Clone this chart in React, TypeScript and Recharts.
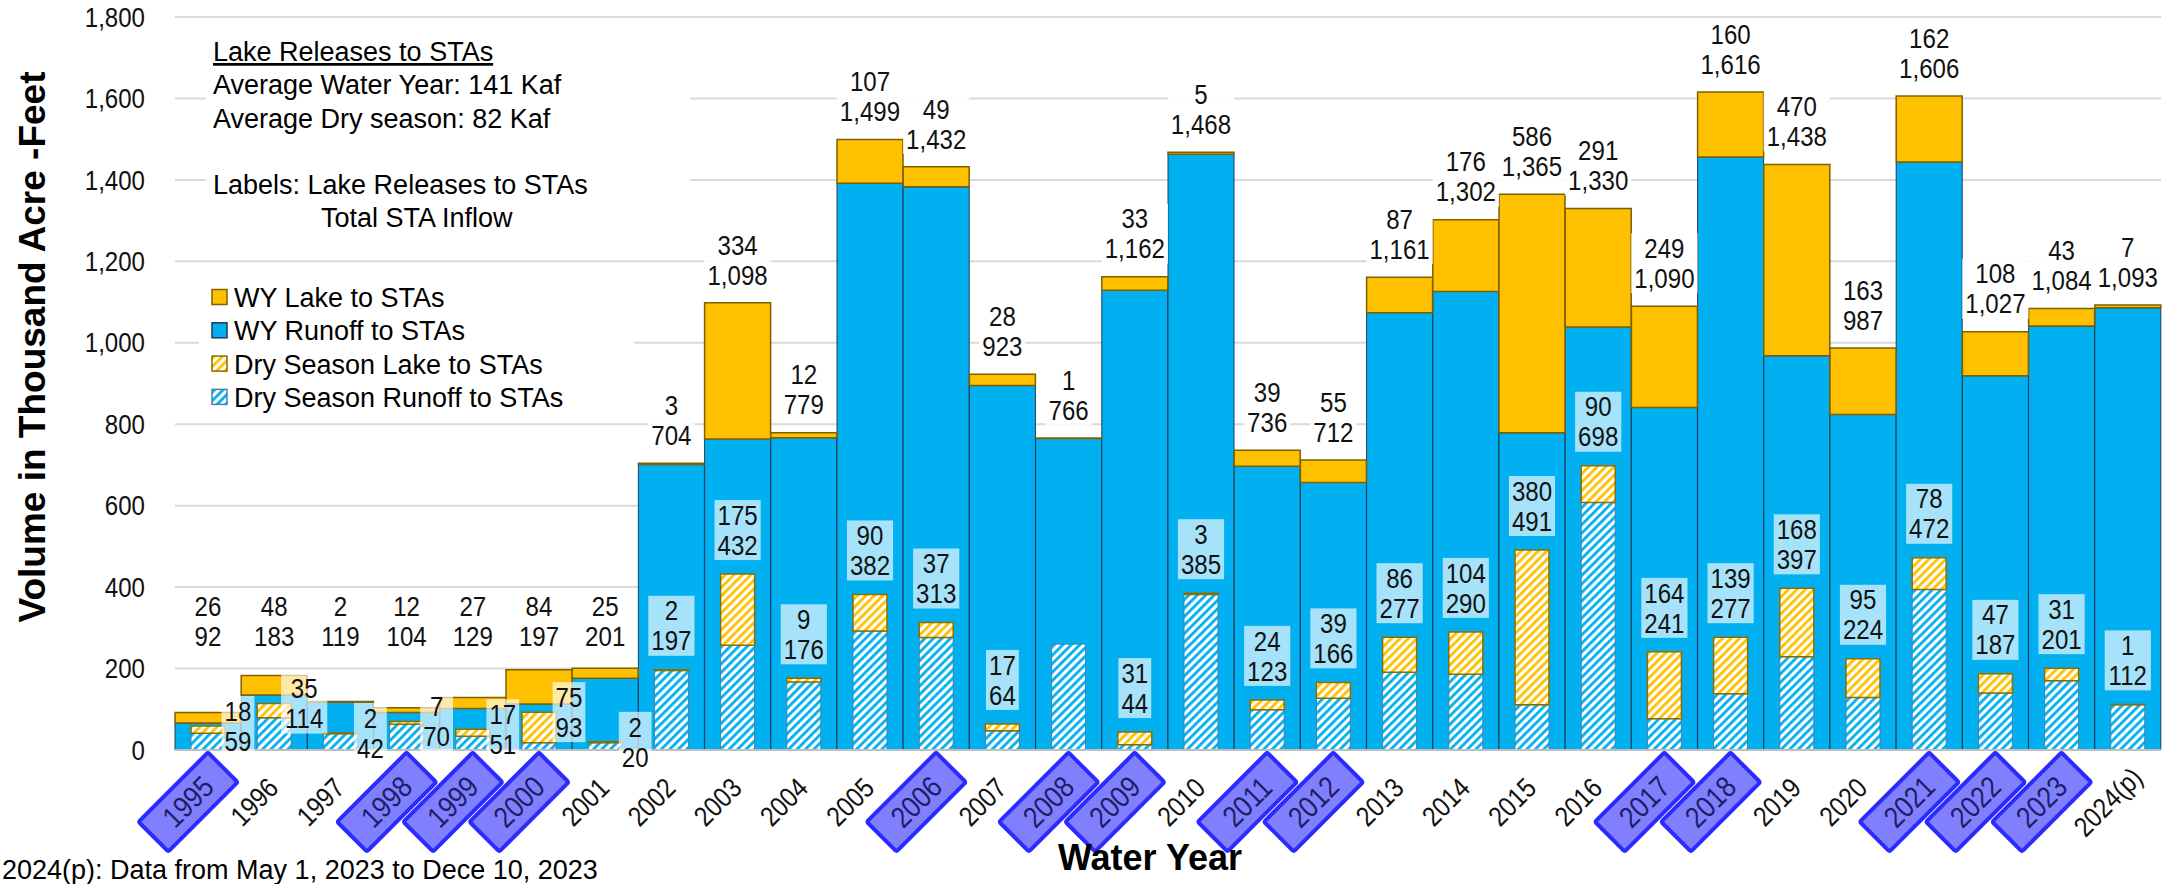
import React from 'react';
import { ComposedChart, Bar, XAxis, YAxis, CartesianGrid, LabelList } from 'recharts';

const SANS = "'Liberation Sans', Arial, sans-serif";
const SQUEEZE = 0.86; // data labels use a narrow face

const years = [
  '1995', '1996', '1997', '1998', '1999', '2000', '2001', '2002', '2003', '2004',
  '2005', '2006', '2007', '2008', '2009', '2010', '2011', '2012', '2013', '2014',
  '2015', '2016', '2017', '2018', '2019', '2020', '2021', '2022', '2023', '2024(p)',
];
// water year: lake releases and total STA inflow (Kaf)
const wyLake = [26, 48, 2, 12, 27, 84, 25, 3, 334, 12, 107, 49, 28, 1, 33, 5, 39, 55, 87, 176, 586, 291, 249, 160, 470, 163, 162, 108, 43, 7];
const wyTotal = [92, 183, 119, 104, 129, 197, 201, 704, 1098, 779, 1499, 1432, 923, 766, 1162, 1468, 736, 712, 1161, 1302, 1365, 1330, 1090, 1616, 1438, 987, 1606, 1027, 1084, 1093];
// dry season: lake releases and total STA inflow (Kaf)
const dryLake = [18, 35, 2, 7, 17, 75, 2, 2, 175, 9, 90, 37, 17, 0, 31, 3, 24, 39, 86, 104, 380, 90, 164, 139, 168, 95, 78, 47, 31, 1];
const dryTotal = [59, 114, 42, 70, 51, 93, 20, 197, 432, 176, 382, 313, 64, 260, 44, 385, 123, 166, 277, 290, 491, 698, 241, 277, 397, 224, 472, 187, 201, 112];
const highlighted = ['1995', '1998', '1999', '2000', '2006', '2008', '2009', '2011', '2012', '2017', '2018', '2021', '2022', '2023'];
const yTicks = [0, 200, 400, 600, 800, 1000, 1200, 1400, 1600, 1800];

const data = years.map((year, i) => ({
  year,
  i,
  wyRunoff: wyTotal[i] - wyLake[i],
  wyLake: wyLake[i],
  dryRunoff: dryTotal[i] - dryLake[i],
  dryLake: dryLake[i],
}));

const CHART_W = 2175;
const CHART_H = 884;
const MARGIN = { top: 17, right: 14, bottom: 0, left: 0 };
const Y_AXIS_W = 175;
const X_AXIS_H = 134;
const Y_MAX = 1800;
const plotTop = MARGIN.top;
const plotBottom = CHART_H - MARGIN.bottom - X_AXIS_H;
const yAt = (v: number) => plotBottom - (v / Y_MAX) * (plotBottom - plotTop);

const EARLY = 7; // first years have their labels moved by hand
const EARLY_WY_LEVEL = 280;

const BLUE = '#00b0f0';
const GOLD = '#ffc000';
const LABEL_FS = 28;

const fmt = (v: number) => v.toLocaleString('en-US');
const textW = (s: string, fs: number) =>
  s.split('').reduce((a, c) => a + (c === ',' ? 0.278 : 0.556) * fs * SQUEEZE, 0);

const Narrow = ({ x, y, anchor = 'middle', size = LABEL_FS, fill = '#111', children }: any) => (
  <text
    transform={`translate(${x},${y}) scale(${SQUEEZE},1)`}
    textAnchor={anchor}
    dominantBaseline="central"
    fontSize={size}
    fontFamily={SANS}
    fill={fill}
  >
    {children}
  </text>
);

const TwoLines = ({ cx, low, top, bottom, fill, opacity }: any) => {
  const w = Math.max(textW(top, LABEL_FS), textW(bottom, LABEL_FS)) + 6;
  return (
    <g>
      <rect x={cx - w / 2} y={low - 45} width={w} height={60} fill={fill} fillOpacity={opacity} />
      <Narrow x={cx} y={low - 30}>{top}</Narrow>
      <Narrow x={cx} y={low}>{bottom}</Narrow>
    </g>
  );
};

const WyLabel = (props: any) => {
  const vb = props.viewBox ?? props;
  const i = Number(props.value);
  const cx = vb.x + vb.width / 2;
  const low = i < EARLY ? yAt(EARLY_WY_LEVEL) : vb.y - 28;
  return <TwoLines cx={cx} low={low} top={fmt(wyLake[i])} bottom={fmt(wyTotal[i])} fill="#fff" opacity={0.9} />;
};

const DryLabel = (props: any) => {
  const vb = props.viewBox ?? props;
  const i = Number(props.value);
  let cx = vb.x + vb.width / 2;
  let low = vb.y - 29;
  if (i < EARLY) {
    cx += 30;
    low = vb.y + 15;
  }
  return <TwoLines cx={cx} low={low} top={fmt(dryLake[i])} bottom={fmt(dryTotal[i])} fill="#fff" opacity={0.65} />;
};

const YearTick = (props: any) => {
  const { x, y, payload } = props;
  const label = String(payload.value);
  const hl = highlighted.includes(label);
  return (
    <g transform={`translate(${x - 20},${y + 52}) rotate(-45)`}>
      {hl && <rect x={-49} y={-21} width={98} height={42} rx={2} fill="#8080ff" stroke="#2b2bff" strokeWidth={4} />}
      <Narrow x={0} y={0} size={hl ? 30 : LABEL_FS} fill={hl ? '#1e1e66' : '#111'}>
        {label}
      </Narrow>
    </g>
  );
};

const ValueTick = (props: any) => {
  const { x, y, payload } = props;
  return (
    <Narrow x={x} y={y} anchor="end" size={28}>
      {fmt(payload.value)}
    </Narrow>
  );
};

const Patterns = () => (
  <svg width={0} height={0} style={{ position: 'absolute' }}>
    <defs>
      <pattern id="hatchBlue" patternUnits="userSpaceOnUse" width={6} height={6} patternTransform="rotate(45)">
        <rect width={6} height={6} fill="#fff" />
        <rect width={2.8} height={6} fill={BLUE} />
      </pattern>
      <pattern id="hatchGold" patternUnits="userSpaceOnUse" width={6} height={6} patternTransform="rotate(45)">
        <rect width={6} height={6} fill="#fff" />
        <rect width={2.8} height={6} fill={GOLD} />
      </pattern>
    </defs>
  </svg>
);

const legendItems = [
  { name: 'WY Lake to STAs', fill: GOLD, stroke: '#7f6000' },
  { name: 'WY Runoff to STAs', fill: BLUE, stroke: '#1f3a5f' },
  { name: 'Dry Season Lake to STAs', fill: 'url(#hatchGold)', stroke: '#8c6d00' },
  { name: 'Dry Season Runoff to STAs', fill: 'url(#hatchBlue)', stroke: '#4a7fa8' },
];

const Overlay = () => {
  const t = { fontFamily: SANS, fontSize: 27, fill: '#000' };
  return (
    <svg width={CHART_W} height={CHART_H} style={{ position: 'absolute', left: 0, top: 0, pointerEvents: 'none' }}>
      <rect x={206} y={30} width={484} height={205} fill="#fff" />
      <text x={213} y={61} {...t} textDecoration="underline">Lake Releases to STAs</text>
      <text x={213} y={94} {...t}>Average Water Year: 141 Kaf</text>
      <text x={213} y={128} {...t}>Average Dry season: 82 Kaf</text>
      <text x={213} y={194} {...t}>Labels: Lake Releases to STAs</text>
      <text x={321} y={227} {...t}>Total STA Inflow</text>

      <rect x={199} y={280} width={435} height={135} fill="#fff" />
      {legendItems.map((it, k) => {
        const cy = 297 + k * 33.3;
        return (
          <g key={it.name}>
            <rect x={212} y={cy - 7.5} width={15} height={15} fill={it.fill} stroke={it.stroke} strokeWidth={1.5} />
            <text x={234} y={cy + 10} {...t}>{it.name}</text>
          </g>
        );
      })}

      <text
        x={45}
        y={347}
        transform="rotate(-90 45 347)"
        textAnchor="middle"
        fontFamily={SANS}
        fontWeight="bold"
        fontSize={37}
        fill="#000"
      >
        Volume in Thousand Acre -Feet
      </text>
      <text x={1150} y={870} textAnchor="middle" fontFamily={SANS} fontWeight="bold" fontSize={36} fill="#000">
        Water Year
      </text>
      <text x={2} y={879} {...t}>2024(p): Data from May 1, 2023 to Dece 10, 2023</text>
    </svg>
  );
};

export default function App() {
  return (
    <div style={{ position: 'absolute', left: 0, top: 0, width: CHART_W, height: CHART_H, background: '#fff' }}>
      <Patterns />
      <ComposedChart width={CHART_W} height={CHART_H} data={data} margin={MARGIN} barCategoryGap={0} barGap={0}>
        <CartesianGrid vertical={false} stroke="#d9d9d9" strokeWidth={2} />
        <XAxis
          dataKey="year"
          height={X_AXIS_H}
          interval={0}
          tickLine={false}
          tickSize={0}
          tickMargin={0}
          axisLine={{ stroke: '#bfbfbf', strokeWidth: 2 }}
          tick={<YearTick />}
        />
        <XAxis xAxisId="dry" dataKey="year" hide />
        <YAxis
          width={Y_AXIS_W}
          domain={[0, Y_MAX]}
          ticks={yTicks}
          interval={0}
          axisLine={false}
          tickLine={false}
          tickSize={0}
          tickMargin={30}
          tick={<ValueTick />}
        />
        <Bar dataKey="wyRunoff" stackId="wy" fill={BLUE} stroke="#1f3a5f" strokeWidth={1} isAnimationActive={false} />
        <Bar dataKey="wyLake" stackId="wy" fill={GOLD} stroke="#7f6000" strokeWidth={1.5} isAnimationActive={false}>
          <LabelList dataKey="i" content={<WyLabel />} />
        </Bar>
        <Bar
          xAxisId="dry"
          dataKey="dryRunoff"
          stackId="dry"
          barSize={34}
          fill="url(#hatchBlue)"
          stroke="#4a7fa8"
          strokeWidth={1}
          isAnimationActive={false}
        />
        <Bar
          xAxisId="dry"
          dataKey="dryLake"
          stackId="dry"
          barSize={34}
          fill="url(#hatchGold)"
          stroke="#8c6d00"
          strokeWidth={1.5}
          isAnimationActive={false}
        >
          <LabelList dataKey="i" content={<DryLabel />} />
        </Bar>
      </ComposedChart>
      <Overlay />
    </div>
  );
}
